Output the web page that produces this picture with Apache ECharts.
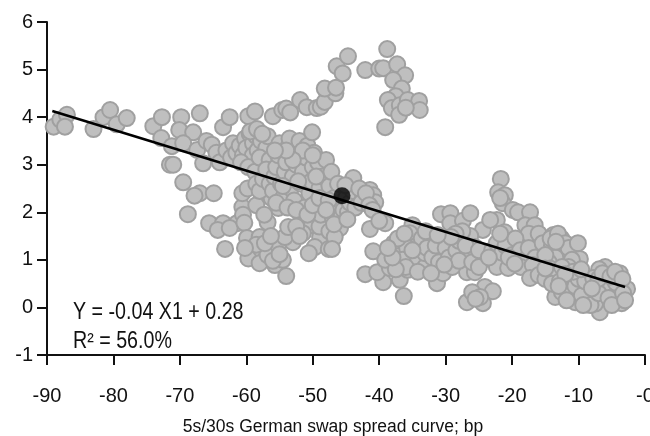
<!DOCTYPE html>
<html><head><meta charset="utf-8">
<style>html,body{margin:0;padding:0;background:#fff}#c{width:650px;height:436px}</style>
<script src="https://cdn.jsdelivr.net/npm/echarts@6/dist/echarts.min.js"></script>
</head><body><div id="c"></div>
<script>
const leftTail=[[-89,3.8],[-88,3.95],[-87,4.05],[-87.3,3.8],[-83,3.75],[-81.5,4.0],[-80.5,4.15],[-79.5,3.85],[-78,3.98],[-74,3.81],[-72.7,4.0],[-69.8,4.0],[-67,4.08],[-72.8,3.56],[-71.2,3.39],[-70.1,3.73],[-68,3.68],[-69.5,3.45],[-67.4,3.31],[-66.5,3.03],[-71.5,3.0],[-71,3.0],[-69.5,2.63],[-67,2.4],[-67.8,2.35],[-64.9,2.4],[-68.8,1.96],[-66,3.5],[-65.2,3.42],[-64.5,3.25],[-64,3.05]];
const upperArm=[[-63.5,3.79],[-62.5,4.0],[-59.7,4.02],[-58.7,4.12],[-56,4.02],[-54.6,4.15],[-54,4.18],[-53.4,4.1],[-51.9,4.36],[-50.9,4.21],[-49.4,4.19],[-48.8,4.22],[-48.2,4.32],[-46.6,4.5],[-48.2,4.6],[-46.5,4.62],[-46.4,5.07],[-45.5,4.92],[-44.7,5.28]];
const upperBlob=[[-42.1,4.99],[-40,5.02],[-38.8,5.43],[-39.4,5.03],[-37.3,5.11],[-36.1,4.88],[-37.9,4.78],[-36.6,4.6],[-37.5,4.44],[-38.7,4.36],[-38.1,4.19],[-36.9,4.25],[-35.7,4.36],[-34,4.34],[-33.9,4.15],[-39.1,3.79],[-37,4.05],[-36,4.2]];
const upperLeftCore=[[-63,3.3],[-62.3,3.15],[-62,3.45],[-61.5,3.25],[-61,3.4],[-60.5,3.2],[-60.2,3.55],[-60,3.35],[-59.5,3.65],[-59,3.45],[-59,3.2],[-58.5,3.6],[-58.3,3.3],[-57.8,3.5],[-57.5,3.05],[-57,3.35],[-56.8,3.6],[-60.8,3.05],[-59.7,2.95],[-58.7,2.85],[-58,3.15],[-56.5,3.1],[-59.4,3.7],[-58.4,3.75],[-57.6,3.65]];
const lowerLeft=[[-65.6,1.77],[-63.5,1.77],[-64.3,1.63],[-61.4,1.77],[-62.5,1.67],[-60.6,2.11],[-60.5,1.95],[-60.3,1.78],[-63.2,1.23],[-59.9,1.46],[-58,1.48],[-59.1,1.2],[-59.7,1.03],[-58,0.93],[-56.8,1.1],[-55.7,0.89],[-54.5,1],[-54,0.66],[-55.2,1.31],[-56.8,1.79],[-55.2,2.09],[-53,1.37],[-54.2,1.48],[-51.6,1.88],[-53.7,1.69],[-50.1,1.73],[-51.5,1.56],[-48.9,1.48],[-49.7,1.27],[-50.6,1.14],[-47.6,1.23],[-45.9,1.67],[-58.5,1.32],[-57.2,1.35],[-56.3,1.5],[-56,0.98],[-55,1.12],[-60.2,1.25],[-52.5,1.7],[-52,1.5],[-49,1.7],[-47.5,1.6],[-46.7,1.48],[-60.6,2.4],[-59.8,2.5],[-58.5,2.15],[-57.3,1.95],[-56.2,2.3],[-57,2.55]];
const centralCore=[[-58.5,2.6],[-58,2.45],[-57.5,2.7],[-57,2.9],[-56.5,2.6],[-56,2.45],[-55.8,2.75],[-55.5,2.95],[-55.2,3.2],[-55,3.45],[-54.8,2.6],[-54.5,2.3],[-54.2,2.85],[-54,3.05],[-53.8,3.35],[-53.5,3.55],[-53.3,2.5],[-53,2.75],[-52.8,2.25],[-52.5,3],[-52.3,3.25],[-52,3.5],[-51.8,2.6],[-51.5,2.85],[-51.2,2.1],[-51,3.15],[-50.8,3.4],[-50.5,2.4],[-50.2,2.65],[-50.1,3.68],[-50,2.95],[-49.8,3.25],[-49.5,2.2],[-49.2,3.05],[-49,2.5],[-48.8,1.95],[-48.5,2.75],[-48.2,2.3],[-48,3.1],[-47.8,2.1],[-47.5,2.55],[-47.2,2.85],[-47,1.9],[-46.8,2.3],[-46.5,2.05],[-46.2,2.6],[-46,2.15],[-45.7,1.9],[-45.4,2.05],[-45,2.3],[-44.7,2],[-44.4,2.2],[-44,2.45],[-43.6,2.1],[-43.9,2.72],[-45.1,2.57],[-41.4,2.47],[-40.9,2.36],[-42.4,2.32],[-40.6,2.21],[-43,2.5],[-42.7,2.2],[-42,2.4],[-41.5,2.15],[-41,2.05],[-55.5,2.2],[-53.8,2.1],[-52.5,2.05],[-50.8,1.95],[-54.5,2.55],[-52.2,2.65],[-50,2.15],[-49,2.3],[-47.6,2.25],[-46.8,1.75],[-51.5,3.3],[-53,3.1],[-54,3.3],[-50,3.2],[-55.7,3.3],[-49.5,2.75],[-48,2.05],[-44.8,1.85]];
const midRight=[[-41.4,1.65],[-39.1,1.77],[-40,1.82],[-47.1,1.23],[-40.9,1.18],[-42.1,0.7],[-39.4,0.53],[-40.3,0.74],[-38.4,0.83],[-39.1,1],[-37.8,1.35],[-37,1.08],[-34.9,0.95],[-36.3,0.24],[-36.9,0.58],[-35.7,0.79],[-33.1,0.85],[-33.1,1.14],[-31.3,0.51],[-30.4,0.72],[-30.5,1.14],[-30.7,1.96],[-29.3,1.98],[-29.3,1.77],[-27.4,1.82],[-26.3,1.98],[-35,1.73],[-35.4,1.56],[-24.4,1.63],[-26.3,1.5],[-25.6,1.27],[-26.6,1.08],[-26.8,0.74],[-25.6,0.74],[-24.4,1],[-34.3,1.3],[-33.6,1.45],[-32.8,1.25],[-32,1.05],[-31.5,1.3],[-31,0.95],[-30,1.25],[-29.5,1.05],[-29,0.85],[-28.4,1.2],[-28,1.4],[-27.5,1.6],[-35.8,1.25],[-36.5,1],[-36,0.85],[-37.5,0.8],[-38,1.05],[-34.2,0.75],[-35,1.2],[-33,1.6],[-28.5,1.55],[-28,0.98],[-27,1.3],[-26,0.95],[-25,0.85],[-25,1.2],[-32.2,0.72],[-30.2,0.9],[-29.2,1.48],[-31.2,1.52],[-37.2,1.45],[-36.2,1.55],[-38.7,1.25]];
const lowerPocket=[[-24.1,0.43],[-22.9,0.34],[-26.8,0.11],[-24.4,0.09],[-26,0.32],[-24.8,0.22],[-25.5,0.18]];
const rightUpper=[[-22.3,0.85],[-20.6,0.83],[-21.7,2.7],[-22.1,2.42],[-21.1,2.36],[-21.4,2.19],[-21.8,2.3],[-19.9,2.05],[-19.1,2],[-17.3,2],[-18,1.73],[-16.6,1.73],[-22.3,1.84],[-23.3,1.84],[-21.1,1.58],[-20.3,1.35],[-19.3,1.27],[-16.2,1.29],[-17.5,1.55],[-23,1.2],[-22.3,1.35],[-21.5,1.15],[-21,1.3],[-20,1.1],[-19.5,1.45],[-18.8,1.2],[-18,1],[-17.5,1.25],[-23.5,1.05],[-20.5,1.05],[-21.8,1.55],[-16.5,1.05],[-18.7,0.85],[-19.6,0.92],[-16,1.55],[-15.4,1.35]];
const rightCoil=[[-13.4,1.35],[-13.8,1.52],[-12.6,1.45],[-14,1.3],[-13,1.25],[-12.2,1.2],[-14.2,1.45],[-13.1,1.55],[-12,1.35],[-12.8,1.1],[-11.5,1.25],[-10.1,1.35],[-9.8,1.02],[-11,1],[-11.5,0.85],[-13.5,1.05],[-14.5,0.95],[-15,1.1],[-13.4,1.38]];
const rightLower=[[-16.9,0.89],[-17.3,0.62],[-16,0.68],[-15,0.6],[-14.3,0.82],[-13.3,0.72],[-12.5,0.85],[-11.3,0.58],[-13.5,0.22],[-10.5,0.11],[-12.5,0.32],[-8.5,0.32],[-6.8,-0.1],[-7.5,0.08],[-6,0.85],[-6.9,0.8],[-3.8,0.72],[-2.7,0.39],[-3.5,0.09],[-4.4,0.25],[-6,0.5],[-4.4,0.52],[-11.5,0.3],[-10.5,0.45],[-9.5,0.25],[-10,0.6],[-9,0.55],[-8.2,0.05],[-7,0.3],[-5.5,0.2],[-5,0.05],[-7.8,0.62],[-7,0.6],[-6.4,0.72],[-5.2,0.65],[-4.5,0.75],[-3.4,0.6],[-3.3,0.3],[-3,0.15],[-14,0.5],[-15,0.82],[-12.8,0.55],[-11.8,0.15],[-9.3,0.05],[-8,0.4],[-10.8,0.75],[-9.6,0.8],[-12,0.7],[-13,0.45]];
const allPoints=[...leftTail,...upperArm,...upperBlob,...upperLeftCore,...lowerLeft,...centralCore,...midRight,...lowerPocket,...rightUpper,...rightCoil,...rightLower];
const meanPoint=[[-45.6,2.35]];
const fitLine=[[-89.2,4.13],[-3,0.43]];
const FONT='"Liberation Sans",Arial,sans-serif';
const chart=echarts.init(document.getElementById('c'),null,{renderer:'canvas'});
chart.setOption({
 animation:false,backgroundColor:'#fff',
 grid:{left:47,right:5,top:22,bottom:81,containLabel:false,outerBoundsMode:'none'},
 xAxis:{type:'value',min:-90,max:0,interval:10,position:'bottom',
  axisLine:{onZero:false,lineStyle:{color:'#111',width:2}},
  axisTick:{show:true,inside:false,length:10,lineStyle:{color:'#111',width:2}},
  splitLine:{show:false},
  axisLabel:{color:'#111',fontFamily:FONT,fontSize:20,margin:31,showMaxLabel:true,hideOverlap:false,formatter:v=>v===0?'-0':String(v)},
  name:'5s/30s German swap spread curve; bp',nameLocation:'middle',nameGap:63,
  nameTextStyle:{color:'#111',fontFamily:FONT,fontSize:17.5,padding:[0,26,0,0]}},
 yAxis:{type:'value',min:-1,max:6,interval:1,
  axisLine:{show:true,onZero:false,lineStyle:{color:'#111',width:2}},
  axisTick:{show:true,inside:false,length:10,lineStyle:{color:'#111',width:2}},
  splitLine:{show:false},
  axisLabel:{color:'#111',fontFamily:FONT,fontSize:20,margin:14}},
 graphic:[
  {type:'text',left:73,top:301,scaleX:0.855,style:{text:'Y = -0.04 X1 + 0.28',fill:'#111',font:'23px '+FONT}},
  {type:'text',left:73,top:330,scaleX:0.855,style:{text:'R² = 56.0%',fill:'#111',font:'23px '+FONT}}
 ],
 series:[
  {type:'scatter',data:allPoints,symbol:'circle',symbolSize:16,clip:false,
   itemStyle:{color:'#bfbfbf',borderColor:'#a0a0a0',borderWidth:2,opacity:1}},
  {type:'line',data:fitLine,symbol:'none',clip:false,lineStyle:{color:'#000',width:2.5},z:3},
  {type:'scatter',data:meanPoint,symbol:'circle',symbolSize:17,clip:false,itemStyle:{color:'#000'},z:4}
 ]
});
</script></body></html>
